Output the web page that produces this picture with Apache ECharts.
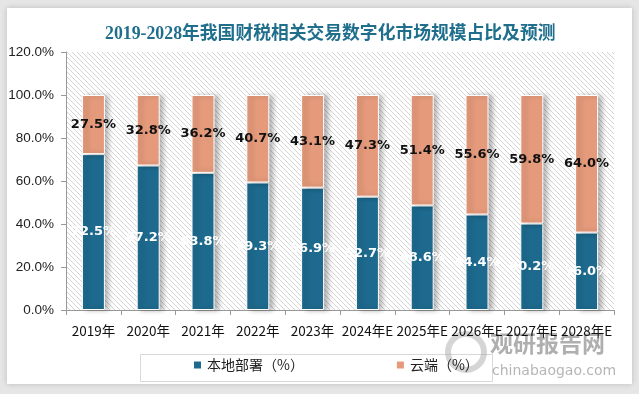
<!DOCTYPE html>
<html><head><meta charset="utf-8">
<script src="https://cdn.jsdelivr.net/npm/echarts@6/dist/echarts.min.js"></script>
<style>html,body{margin:0;padding:0;background:#e6e6e6}#c{width:639px;height:394px}</style>
</head><body><div id="c"></div>
<script>
const categories = ['2019年','2020年','2021年','2022年','2023年','2024年E','2025年E','2026年E','2027年E','2028年E'];
const localValues = [72.5, 67.2, 63.8, 59.3, 56.9, 52.7, 48.6, 44.4, 40.2, 36.0];
const cloudValues = [27.5, 32.8, 36.2, 40.7, 43.1, 47.3, 51.4, 55.6, 59.8, 64.0];
const seriesNames = ['本地部署（%）', '云端（%）'];
const titleText = '2019-2028年我国财税相关交易数字化市场规模占比及预测';

const pc = document.createElement('canvas');
pc.width = 5; pc.height = 5;
const g = pc.getContext('2d');
g.fillStyle = '#ffffff'; g.fillRect(0,0,5,5);
g.strokeStyle = '#d4d4d4'; g.lineWidth = 1;
g.beginPath(); g.moveTo(-1,-1); g.lineTo(6,6); g.stroke();
g.beginPath(); g.moveTo(-1,4); g.lineTo(1,6); g.stroke();
g.beginPath(); g.moveTo(4,-1); g.lineTo(6,1); g.stroke();

const chart = echarts.init(document.getElementById('c'), null, {renderer:'canvas'});
const barStyle = (c) => ({color:c, borderColor:'#ffffff', borderWidth:1, shadowColor:'rgba(0,0,0,0.3)', shadowBlur:5, shadowOffsetX:4, shadowOffsetY:0});
chart.setOption({
  backgroundColor: '#e6e6e6',
  animation: false,
  graphic: [
    {type:'rect', z:-10, shape:{x:7,y:8,width:625,height:376}, style:{fill:'#ffffff', shadowColor:'rgba(0,0,0,0.18)', shadowBlur:6}},
    {type:'rect', z:-6, shape:{x:140.5,y:354.5,width:352,height:27}, style:{fill:'#ffffff', stroke:'#d9d9d9', lineWidth:1}},
    {type:'text', z:-5, left:490, top:332, style:{text:'观研报告网', fill:'rgba(110,110,110,0.55)', font:'bold 23px "Noto Sans CJK SC"'}},
    {type:'text', z:-5, left:492, top:364, style:{text:'chinabaogao.com', fill:'rgba(120,120,120,0.55)', font:'14px "DejaVu Sans"'}},
    {type:'circle', z:-5, shape:{cx:466, cy:352, r:18}, style:{fill:'none', stroke:'rgba(150,150,150,0.4)', lineWidth:6}}
  ],
  title: {
    text: titleText, left: 100, top: 21,
    textStyle: {fontFamily:'"Liberation Serif","Noto Sans CJK SC"', fontSize:17.8, fontWeight:'bold', color:'#1f6e8c'}
  },
  grid: {left:66, right:25, top:52, bottom:84, show:true, borderWidth:0, backgroundColor:{image:pc, repeat:'repeat'}},
  legend: {
    data: seriesNames, left: 192, top: 358,
    padding: [0, 0, 0, 0], itemGap: 91,
    itemWidth:9, itemHeight:9, icon:'rect',
    textStyle:{fontSize:14, color:'#222', fontFamily:'"Noto Sans CJK SC"'}
  },
  xAxis: {
    type:'category', data:categories,
    axisLine:{lineStyle:{color:'#999'}},
    axisTick:{show:true, length:5, lineStyle:{color:'#999'}},
    axisLabel:{fontSize:13.5, color:'#111', margin:14, interval:0, fontFamily:'"Noto Sans CJK SC"'}
  },
  yAxis: {
    type:'value', min:0, max:120, interval:20,
    splitLine:{show:false},
    axisLine:{show:true, lineStyle:{color:'#999'}},
    axisTick:{show:true, length:5, lineStyle:{color:'#999'}},
    axisLabel:{formatter:(v)=>v.toFixed(1)+'%', fontSize:13.5, color:'#222', margin:12, fontFamily:'"Liberation Sans"'}
  },
  series: [
    {name:seriesNames[0], type:'bar', stack:'a', barWidth:23, data:localValues,
     itemStyle:barStyle('#1d6a8e'),
     label:{show:true, position:'inside', formatter:(p)=>p.value.toFixed(1)+'%', color:'#ffffff', fontWeight:'bold', fontSize:13, fontFamily:'"DejaVu Sans"'}},
    {name:seriesNames[1], type:'bar', stack:'a', barWidth:23, data:cloudValues,
     itemStyle:barStyle('#e59a7b'),
     label:{show:true, position:'inside', formatter:(p)=>p.value.toFixed(1)+'%', color:'#111111', fontWeight:'bold', fontSize:13, fontFamily:'"DejaVu Sans"'}}
  ]
});
</script></body></html>
